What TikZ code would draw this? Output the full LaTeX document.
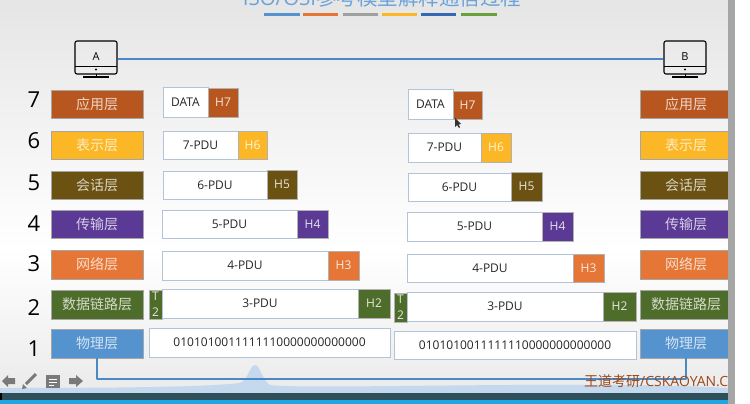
\documentclass[tikz,border=0pt]{standalone}
\usepackage{fontspec}
\setmainfont{Open Sans}
\newfontfamily\cjk{Noto Sans CJK SC}
\usetikzlibrary{calc}
\definecolor{cAppl}{HTML}{B8561F}
\definecolor{cPres}{HTML}{FBB726}
\definecolor{cSess}{HTML}{6B5212}
\definecolor{cTran}{HTML}{5B3A96}
\definecolor{cNetw}{HTML}{E57635}
\definecolor{cLink}{HTML}{4F6D2A}
\definecolor{cPhys}{HTML}{5593CE}
\definecolor{cLine}{HTML}{4A88C6}
\definecolor{cEdge}{HTML}{B4C4D8}
\definecolor{cTitle}{HTML}{6AA3DA}
\definecolor{cTeal}{HTML}{2F4F5A}
\definecolor{cBlue}{HTML}{1EA7E0}
\definecolor{cIcon}{HTML}{7A7A7A}
\definecolor{cStripeB}{HTML}{3468B4}
\definecolor{cStripeG}{HTML}{6AA03C}
\definecolor{cStripeK}{HTML}{A0A0A0}
\tikzset{
  layerbox/.style={fill=#1,draw=black!35,line width=.6pt,text=white,text opacity=.75,font=\cjk\fontsize{14}{14}\selectfont,inner sep=0pt},
  pdubox/.style={fill=white,draw=cEdge,line width=1pt,text=black!85,font=\fontsize{12}{12}\selectfont,inner sep=0pt},
  hdrbox/.style={fill=#1,draw=black!30,line width=.5pt,text=white,text opacity=.85,font=\fontsize{12}{12}\selectfont,inner sep=0pt},
  trlbox/.style={fill=cLink,draw=black!30,line width=.5pt,text=white,text opacity=.85,font=\fontsize{12}{16}\selectfont,inner sep=0pt,align=center},
  lvl/.style={font=\fontsize{22}{22}\selectfont,text=black,inner sep=0pt},
  screen/.style={draw=black,line width=1.1pt,rounded corners=2pt,fill=none,inner sep=0pt,font=\fontsize{11}{11}\selectfont},
  wire/.style={draw=cLine,line width=1.2pt},
  cable/.style={draw=cLine,line width=2pt,line join=round},
  stripe/.style={line width=3.5pt},
}
% \bx{name}{x1}{y1}{x2}{y2}{style}{text}
\newcommand{\bx}[7]{%
  \pgfmathsetmacro{\bxw}{#4-#2}\pgfmathsetmacro{\bxh}{#5-#3}%
  \node[#6,minimum width=\bxw pt,minimum height=\bxh pt] (#1) at ({(#2+#4)/2},{(#3+#5)/2}) {#7};}
\newcommand{\monitor}[3]{%
  \bx{#1}{#2}{41}{#2+42}{74}{screen}{\raisebox{1pt}{#3}}
  \draw[line width=1.1pt] (#2,66.5) -- (#2+42,66.5);
  \fill (#2+21,69.5) circle (1.2pt);
  \draw[line width=.9pt] (#2+21,74) -- (#2+21,77);
  \draw[line width=1.4pt] (#2+8,77) -- (#2+34,77);}
\begin{document}
\begin{tikzpicture}[x=1pt,y=-1pt]
\useasboundingbox (0,0) rectangle (750,404);
\fill[white] (0,0) rectangle (750,404);
\shade[top color=black!10,bottom color=white] (0,0) rectangle (728,250);
\shade[top color=white,bottom color=black!8] (0,250) rectangle (728,393);
% title
\node[text=cTitle,font=\fontsize{20.5}{21}\selectfont,anchor=base,inner sep=0pt] (title) at (382,6) {ISO/OSI{\cjk 参考模型解释通信过程}};
\foreach \a/\b/\c in {264/300/cPhys,303/338/cNetw,343/378/cStripeK,382/417/cPres,421/456/cStripeB,461/497/cStripeG}
  \draw[stripe,draw=\c] (\a,14.5) -- (\b,14.5);
% bottom waveform
\fill[cPhys!35] (0,393) -- (0,388) .. controls (60,388) and (200,388) .. (240,383) .. controls (248,380) and (250,365) .. (255,365) .. controls (260,365) and (262,380) .. (270,385) .. controls (300,390) and (600,380) .. (728,388) -- (728,393) -- cycle;
% hosts
\monitor{A}{75}{A}
\monitor{B}{664}{B}
\draw[wire] ([yshift=-1.5pt]A.east) -- ([yshift=-1.5pt]B.west);
% level numbers
\foreach \n/\y in {7/100,6/141,5/183,4/224,3/264,2/308,1/349}
  \node[lvl] (n\n) at (34,\y) {\n};
% layer stacks
\foreach \s/\xa/\xb in {L/51/143,R/640/732}{
  \bx{\s7}{\xa}{90}{\xb}{118}{layerbox=cAppl}{应用层}
  \bx{\s6}{\xa}{131}{\xb}{159}{layerbox=cPres}{表示层}
  \bx{\s5}{\xa}{171}{\xb}{199}{layerbox=cSess}{会话层}
  \bx{\s4}{\xa}{210}{\xb}{238}{layerbox=cTran}{传输层}
  \bx{\s3}{\xa}{250}{\xb}{279}{layerbox=cNetw}{网络层}
  \bx{\s2}{\xa}{290}{\xb}{319}{layerbox=cLink}{数据链路层}
  \bx{\s1}{\xa}{329}{\xb}{358}{layerbox=cPhys}{物理层}
}
\draw[cable] (L1.south) -- ++(0,21) -| (R1.south);
% sender
\bx{a7}{163}{88}{208}{117}{pdubox}{DATA}
\bx{ah7}{208}{88}{238}{117}{hdrbox=cAppl}{H7}
\bx{a6}{163}{131}{238}{159}{pdubox}{7-PDU}
\bx{ah6}{238}{131}{267}{159}{hdrbox=cPres}{H6}
\bx{a5}{163}{171}{267}{199}{pdubox}{6-PDU}
\bx{ah5}{267}{170}{297}{199}{hdrbox=cSess}{H5}
\bx{a4}{162}{210}{297}{238}{pdubox}{5-PDU}
\bx{ah4}{297}{210}{328}{238}{hdrbox=cTran}{H4}
\bx{a3}{162}{251}{328}{280}{pdubox}{4-PDU}
\bx{ah3}{328}{251}{359}{280}{hdrbox=cNetw}{H3}
\bx{at2}{149}{290}{162}{319}{trlbox}{T\\2}
\bx{a2}{162}{289}{358}{318}{pdubox}{3-PDU}
\bx{ah2}{358}{289}{390}{318}{hdrbox=cLink}{H2}
\bx{a1}{149}{328}{390}{357}{pdubox}{0101010011111110000000000000}
% receiver
\bx{b7}{408}{90}{453}{119}{pdubox}{DATA}
\bx{bh7}{453}{91}{482}{119}{hdrbox=cAppl}{H7}
\bx{b6}{408}{133}{481}{162}{pdubox}{7-PDU}
\bx{bh6}{481}{133}{511}{162}{hdrbox=cPres}{H6}
\bx{b5}{408}{173}{511}{201}{pdubox}{6-PDU}
\bx{bh5}{511}{172}{542}{201}{hdrbox=cSess}{H5}
\bx{b4}{407}{212}{542}{241}{pdubox}{5-PDU}
\bx{bh4}{542}{212}{573}{241}{hdrbox=cTran}{H4}
\bx{b3}{407}{254}{573}{282}{pdubox}{4-PDU}
\bx{bh3}{573}{254}{604}{282}{hdrbox=cNetw}{H3}
\bx{bt2}{394}{293}{407}{322}{trlbox}{T\\2}
\bx{b2}{407}{292}{603}{321}{pdubox}{3-PDU}
\bx{bh2}{603}{292}{636}{321}{hdrbox=cLink}{H2}
\bx{b1}{394}{331}{636}{359}{pdubox}{0101010011111110000000000000}
% mouse cursor
\fill[black!80] (455,118) -- (455,127) -- (457,125) -- (459,128) -- (460,127) -- (458.5,124.5) -- (461,124) -- cycle;
% watermark
\node[text=cAppl!85!black,font=\fontsize{14}{14}\selectfont,anchor=west,inner sep=0pt] (mark) at (584,381) {{\cjk 王道考研}/CSKAOYAN.COM};
% player bars
\fill[cTeal] (0,393) rectangle (728,400);
\fill[black] (0,393) rectangle (2,400);
\fill[cBlue] (0,400) rectangle (728,404);
\fill[black!35] (728,0) rectangle (735,404);
\fill[white] (735,0) rectangle (750,404);
% toolbar icons
\fill[cIcon] (2,381) -- (8,375) -- (8,378) -- (15,378) -- (15,384) -- (8,384) -- (8,387) -- cycle;
\draw[cIcon,line width=3pt] (26,384) -- (36,374);
\fill[cIcon] (22,389) -- (23,384) -- (27,388) -- cycle;
\fill[cIcon] (46,375) rectangle (60,388);
\draw[white,line width=.9pt] (49,379) -- (57,379) (49,382) -- (57,382) (49,385) -- (54,385);
\fill[cIcon] (83,381) -- (76,375) -- (76,378) -- (69,378) -- (69,384) -- (76,384) -- (76,387) -- cycle;
\end{tikzpicture}
\end{document}
